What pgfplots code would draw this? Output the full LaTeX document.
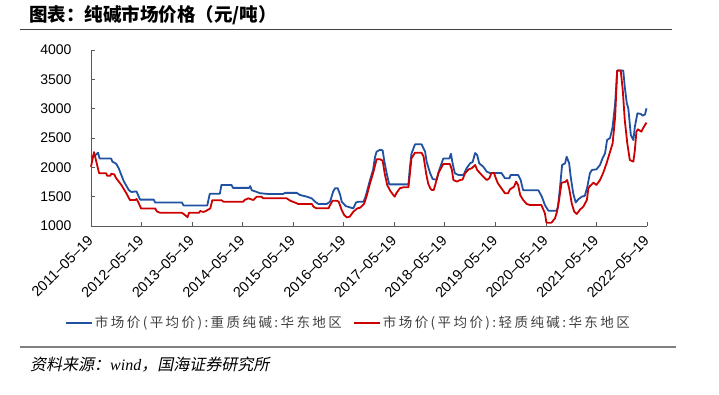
\documentclass[border=0pt]{standalone}
\usepackage{fontspec}
\setmainfont{Liberation Sans}
\newfontfamily\cjk{Noto Sans CJK SC}
\newfontfamily\cjkleg[LetterSpace=18]{Noto Sans CJK SC}
\newfontfamily\cjkit[FakeSlant=0.2]{Noto Sans CJK SC}
\newfontfamily\timesf{Liberation Serif}
\usepackage{pgfplots}
\pgfplotsset{compat=1.18}
\definecolor{cblue}{RGB}{33,82,162}
\definecolor{cred}{RGB}{204,0,0}
\begin{document}
\begin{tikzpicture}
\path[use as bounding box] (0pt,0pt) rectangle (719pt,-394pt);
\node[anchor=west, inner sep=0pt, font=\cjk\bfseries\fontsize{18.5}{18.5}\selectfont] at (29pt,-15pt) {图表：纯碱市场价格（元/吨）};
\draw[black!75, line width=1.2pt] (20pt,-29.5pt) -- (672pt,-29.5pt);
\draw[black!50, line width=2pt] (20pt,-346.7pt) -- (676pt,-346.7pt);
\node[anchor=west, inner sep=0pt, font=\fontsize{16}{16}\selectfont] at (30pt,-365pt) {{\cjkit 资料来源：}{\timesf\itshape wind}{\cjkit ，国海证券研究所}};
\begin{axis}[
  at={(91pt,-226pt)}, anchor=south west,
  scale only axis, width=556pt, height=176pt,
  xmin=0, xmax=11, ymin=1000, ymax=4000,
  axis x line*=bottom, axis y line*=left,
  axis line style={black!65, line width=1pt},
  tick align=inside, major tick length=4pt,
  tick style={black!65, line width=0.8pt},
  xtick={0,1,2,3,4,5,6,7,8,9,10,11},
  xticklabels={2011--05--19,2012--05--19,2013--05--19,2014--05--19,2015--05--19,2016--05--19,2017--05--19,2018--05--19,2019--05--19,2020--05--19,2021--05--19,2022--05--19},
  xticklabel style={rotate=45, anchor=east, yshift=-8.2pt, xshift=-5.5pt, font=\fontsize{14.5}{15}\selectfont},
  ytick={1000,1500,2000,2500,3000,3500,4000},
  yticklabel style={xshift=-16pt, font=\fontsize{14}{15}\selectfont},
  /pgf/number format/assume math mode=true,
  /pgf/number format/1000 sep={},
  legend style={at={(0.463,-0.551)}, anchor=center, draw=none, fill=none,
    font=\cjkleg\fontsize{13.5}{14}\selectfont, text=black!75,
    /tikz/every even column/.append style={column sep=9pt}},
  legend columns=2,
  legend image code/.code={\draw[#1, line width=2pt] (0pt,0pt) -- (26pt,0pt);},
  clip=false,
]
\addplot[cblue, line width=1.8pt, line join=round, no marks] coordinates {
(0.00,2180)(0.08,2200)(0.14,2250)(0.17,2150)(0.40,2150)(0.42,2100)(0.50,2060)(0.55,1980)(0.65,1760)(0.75,1610)(0.80,1580)(0.90,1590)(0.97,1450)(1.24,1450)(1.27,1400)(1.80,1400)(1.83,1350)(2.30,1350)(2.35,1550)(2.55,1550)(2.58,1700)(2.78,1700)(2.81,1650)(3.13,1650)(3.15,1680)(3.18,1610)(3.28,1580)(3.34,1560)(3.51,1545)(3.80,1545)(3.84,1565)(4.07,1565)(4.13,1530)(4.27,1500)(4.37,1470)(4.43,1415)(4.50,1375)(4.66,1375)(4.73,1415)(4.79,1585)(4.83,1645)(4.88,1645)(4.93,1530)(4.96,1415)(5.04,1340)(5.12,1318)(5.19,1300)(5.24,1398)(5.29,1415)(5.39,1415)(5.42,1470)(5.45,1557)(5.52,1784)(5.58,1955)(5.62,2180)(5.65,2267)(5.72,2300)(5.77,2290)(5.80,2120)(5.85,1898)(5.90,1710)(6.28,1710)(6.31,2006)(6.34,2233)(6.41,2392)(6.54,2392)(6.61,2267)(6.64,2097)(6.71,1898)(6.76,1800)(6.84,1790)(6.89,1955)(6.97,2150)(7.09,2150)(7.12,2233)(7.16,2040)(7.20,1898)(7.27,1870)(7.37,1870)(7.43,1983)(7.50,2069)(7.55,2090)(7.60,2244)(7.64,2210)(7.68,2069)(7.76,2011)(7.83,1926)(7.89,1905)(8.12,1905)(8.19,1813)(8.28,1813)(8.30,1870)(8.45,1870)(8.50,1784)(8.55,1610)(8.85,1610)(8.92,1500)(8.98,1358)(9.05,1260)(9.21,1260)(9.24,1330)(9.28,1670)(9.32,2040)(9.38,2069)(9.41,2182)(9.46,2070)(9.49,1841)(9.54,1557)(9.59,1400)(9.64,1455)(9.71,1500)(9.77,1515)(9.82,1670)(9.87,1898)(9.91,1955)(10.00,1966)(10.07,2040)(10.12,2154)(10.17,2239)(10.21,2466)(10.27,2500)(10.32,2693)(10.37,3092)(10.41,3650)(10.53,3650)(10.56,3375)(10.60,3092)(10.63,3006)(10.68,2552)(10.73,2466)(10.76,2693)(10.81,2921)(10.88,2910)(10.91,2881)(10.96,2900)(10.99,3006)
};
\addlegendentry{市场价(平均价):重质纯碱:华东地区}
\addplot[cred, line width=1.8pt, line join=round, no marks] coordinates {
(0.00,2010)(0.06,2260)(0.16,1900)(0.30,1900)(0.32,1855)(0.38,1855)(0.40,1890)(0.46,1880)(0.50,1813)(0.60,1700)(0.70,1557)(0.77,1443)(0.87,1443)(0.90,1460)(0.93,1415)(0.99,1300)(1.27,1300)(1.30,1250)(1.37,1225)(1.80,1225)(1.86,1187)(1.91,1150)(1.94,1227)(2.14,1227)(2.16,1256)(2.22,1240)(2.26,1250)(2.36,1300)(2.40,1440)(2.58,1440)(2.62,1415)(3.01,1415)(3.04,1443)(3.11,1472)(3.15,1460)(3.21,1443)(3.28,1500)(3.37,1500)(3.41,1472)(3.87,1472)(3.94,1432)(4.04,1398)(4.10,1375)(4.37,1375)(4.40,1330)(4.46,1301)(4.70,1301)(4.73,1358)(4.78,1432)(4.86,1432)(4.90,1415)(4.96,1273)(5.01,1187)(5.06,1147)(5.12,1160)(5.19,1244)(5.27,1301)(5.32,1310)(5.40,1375)(5.45,1500)(5.52,1727)(5.58,1898)(5.65,2137)(5.72,2137)(5.77,2114)(5.81,1898)(5.86,1699)(5.92,1600)(5.98,1529)(6.01,1500)(6.04,1557)(6.11,1643)(6.18,1660)(6.28,1660)(6.31,1898)(6.34,2154)(6.41,2250)(6.54,2250)(6.58,2182)(6.63,1898)(6.67,1727)(6.71,1643)(6.74,1614)(6.78,1614)(6.81,1699)(6.87,1898)(6.94,2011)(6.97,2057)(7.10,2057)(7.14,1955)(7.17,1784)(7.24,1756)(7.30,1784)(7.35,1790)(7.40,1898)(7.47,1966)(7.53,1983)(7.60,2040)(7.64,1955)(7.70,1898)(7.76,1841)(7.83,1784)(7.88,1813)(7.92,1898)(7.97,1909)(8.01,1813)(8.05,1727)(8.12,1643)(8.19,1557)(8.25,1557)(8.29,1625)(8.37,1670)(8.41,1756)(8.45,1700)(8.49,1529)(8.55,1443)(8.62,1375)(8.68,1358)(8.91,1358)(8.98,1216)(9.01,1057)(9.11,1057)(9.18,1131)(9.22,1244)(9.26,1443)(9.31,1739)(9.38,1750)(9.42,1784)(9.46,1642)(9.51,1387)(9.56,1244)(9.61,1205)(9.68,1284)(9.74,1330)(9.81,1443)(9.84,1642)(9.87,1680)(9.94,1739)(10.00,1700)(10.07,1784)(10.13,1898)(10.20,2069)(10.27,2267)(10.32,2409)(10.37,2863)(10.41,3650)(10.48,3650)(10.52,3319)(10.56,2807)(10.61,2409)(10.66,2125)(10.73,2097)(10.76,2295)(10.79,2608)(10.82,2648)(10.89,2608)(10.92,2665)(10.96,2722)(10.99,2762)
};
\addlegendentry{市场价(平均价):轻质纯碱:华东地区}
\end{axis}
\end{tikzpicture}
\end{document}
